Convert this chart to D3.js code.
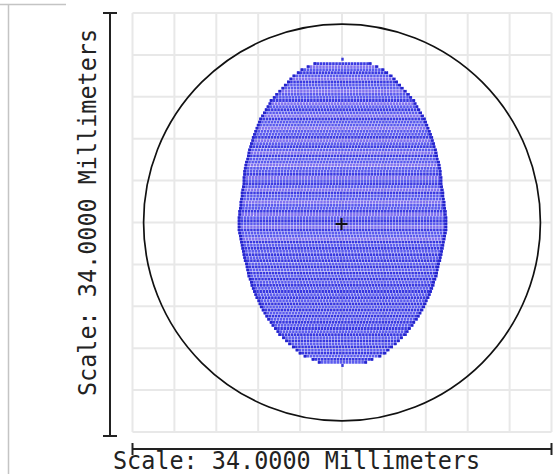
<!DOCTYPE html>
<html><head><meta charset="utf-8">
<script src="https://cdn.jsdelivr.net/npm/d3@7"></script>
<style>html,body{margin:0;padding:0;background:#fff;}svg{display:block;}</style>
</head><body>
<script>
// ---- data (millimetres, relative to the chief ray) ----
const scaleLabel = "Scale: 34.0000 Millimeters";
const fieldExtent = [-17, 17];
const gridTicks = [-17, -13.6, -10.2, -6.8, -3.4, 0, 3.4, 6.8, 10.2, 13.6, 17];
const circleRadius = [16.1];
const spotCenterX = 0.04;
const rowY = [12.9, 12.65, 12.4, 12.15, 11.9, 11.65, 11.4, 11.15, 10.9, 10.65,
  10.4, 10.15, 9.9, 9.65, 9.4, 9.15, 8.9, 8.65, 8.4, 8.15,
  7.9, 7.65, 7.4, 7.15, 6.9, 6.65, 6.4, 6.15, 5.9, 5.65,
  5.4, 5.15, 4.9, 4.65, 4.4, 4.15, 3.9, 3.65, 3.4, 3.15,
  2.9, 2.65, 2.4, 2.15, 1.9, 1.65, 1.4, 1.15, 0.9, 0.65,
  0.4, 0.15, -0.1, -0.35, -0.6, -0.85, -1.1, -1.35, -1.6, -1.85,
  -2.1, -2.35, -2.6, -2.85, -3.1, -3.35, -3.6, -3.85, -4.1, -4.35,
  -4.6, -4.85, -5.1, -5.35, -5.6, -5.85, -6.1, -6.35, -6.6, -6.85,
  -7.1, -7.35, -7.6, -7.85, -8.1, -8.35, -8.6, -8.85, -9.1, -9.35,
  -9.6, -9.85, -10.1, -10.35, -10.6, -10.85, -11.1, -11.35];
const rowHalfWidth = [2.35, 2.9, 3.4, 3.7, 4.05, 4.3, 4.5, 4.75, 4.95, 5.2,
  5.45, 5.65, 5.9, 6.0, 6.15, 6.3, 6.45, 6.6, 6.75, 6.85,
  6.95, 7.05, 7.15, 7.25, 7.35, 7.4, 7.5, 7.55, 7.65, 7.7,
  7.75, 7.8, 7.9, 7.95, 8.0, 8.05, 8.05, 8.1, 8.1, 8.1,
  8.15, 8.2, 8.25, 8.25, 8.3, 8.35, 8.35, 8.4, 8.45, 8.45,
  8.5, 8.5, 8.5, 8.5, 8.5, 8.45, 8.4, 8.35, 8.3, 8.25,
  8.2, 8.15, 8.1, 8.05, 8.0, 7.9, 7.85, 7.8, 7.75, 7.7,
  7.6, 7.5, 7.45, 7.35, 7.25, 7.15, 7.05, 6.9, 6.8, 6.7,
  6.55, 6.4, 6.25, 6.1, 5.9, 5.75, 5.55, 5.35, 5.2, 4.9,
  4.65, 4.4, 4.1, 3.8, 3.55, 3.15, 2.5, 2.0];
const tipX = [0.04, 0.04];
const tipY = [13.25, -11.6];
const centroidX = [-0.04];
const centroidY = [-0.12];

// ---- layout ----
const W = 553, H = 474;
const svg = d3.select("body").append("svg").attr("width", W).attr("height", H);

const x = d3.scaleLinear().domain(fieldExtent).range([132.5, 551.5]);
const y = d3.scaleLinear().domain(fieldExtent).range([432, 13]);

// frame lines
svg.append("line").attr("x1", 8.5).attr("x2", 8.5).attr("y1", 4).attr("y2", H)
  .attr("stroke", "#c4c4c4").attr("stroke-width", 1.5);
svg.append("line").attr("x1", 0).attr("x2", 66).attr("y1", 4.5).attr("y2", 4.5)
  .attr("stroke", "#c4c4c4").attr("stroke-width", 1.5);

// grid
const grid = svg.append("g").attr("stroke", "#e8e8e8").attr("stroke-width", 2);
grid.selectAll("line.v").data(gridTicks).join("line").attr("class", "v")
  .attr("x1", d => x(d)).attr("x2", d => x(d)).attr("y1", y(17)).attr("y2", y(-17));
grid.selectAll("line.h").data(gridTicks).join("line").attr("class", "h")
  .attr("y1", d => y(d)).attr("y2", d => y(d)).attr("x1", x(-17)).attr("x2", x(17));

// spot rows
const rows = rowY.map((v, i) => ({y: v, hw: rowHalfWidth[i], i}));
function rowColor(d) {
  if (d.y > -1.5) {
    if (d.i % 4 === 1) return "#8272f0";
    if (d.i % 3 === 0) return "#3b3be2";
    return "#5a5aee";
  }
  return d.i % 2 === 0 ? "#3838e0" : "#5c5cef";
}
const spot = svg.append("g");
spot.selectAll("line.row").data(rows).join("line").attr("class", "row")
  .attr("x1", d => x(spotCenterX - d.hw)).attr("x2", d => x(spotCenterX + d.hw))
  .attr("y1", d => y(d.y)).attr("y2", d => y(d.y))
  .attr("stroke", rowColor).attr("stroke-width", 2.8)
  .attr("stroke-dasharray", "2.6,0.5");
// darker ray ends at the rim of the footprint
spot.selectAll("line.endL").data(rows).join("line").attr("class", "endL")
  .attr("x1", d => x(spotCenterX - d.hw)).attr("x2", d => x(spotCenterX - d.hw) + 3)
  .attr("y1", d => y(d.y)).attr("y2", d => y(d.y))
  .attr("stroke", "#2424cc").attr("stroke-width", 2.4);
spot.selectAll("line.endR").data(rows).join("line").attr("class", "endR")
  .attr("x1", d => x(spotCenterX + d.hw) - 3).attr("x2", d => x(spotCenterX + d.hw))
  .attr("y1", d => y(d.y)).attr("y2", d => y(d.y))
  .attr("stroke", "#2424cc").attr("stroke-width", 2.4);
spot.selectAll("rect.tip").data(tipX.map((v, i) => ({x: v, y: tipY[i]}))).join("rect")
  .attr("class", "tip")
  .attr("x", d => x(d.x) - 1.2).attr("y", d => y(d.y) - 1.5)
  .attr("width", 2.4).attr("height", 3).attr("fill", "#3a3ad8");

// circle
svg.append("circle").attr("cx", x(0)).attr("cy", y(0))
  .attr("r", x(circleRadius[0]) - x(0))
  .attr("fill", "none").attr("stroke", "#111").attr("stroke-width", 1.7);

// centroid cross
const cross = svg.append("g").attr("stroke", "#111").attr("stroke-width", 2);
centroidX.forEach((cx, i) => {
  const px = x(cx), py = y(centroidY[i]);
  cross.append("line").attr("x1", px - 6).attr("x2", px + 6).attr("y1", py).attr("y2", py);
  cross.append("line").attr("x1", px).attr("x2", px).attr("y1", py - 6).attr("y2", py + 6);
});

// scale bars
const bar = svg.append("g").attr("stroke", "#222").attr("stroke-width", 2);
bar.append("line").attr("x1", 110).attr("x2", 110).attr("y1", y(17)).attr("y2", y(-17) + 4);
bar.append("line").attr("x1", 103).attr("x2", 117).attr("y1", y(17)).attr("y2", y(17));
bar.append("line").attr("x1", 103).attr("x2", 117).attr("y1", y(-17) + 4).attr("y2", y(-17) + 4);
bar.append("line").attr("x1", x(-17)).attr("x2", x(17)).attr("y1", 449).attr("y2", 449);
bar.append("line").attr("x1", x(-17)).attr("x2", x(-17)).attr("y1", 443).attr("y2", 455);
bar.append("line").attr("x1", x(17)).attr("x2", x(17)).attr("y1", 443).attr("y2", 455);

// labels
const font = "'DejaVu Sans Mono', 'Liberation Mono', monospace";
svg.append("text").attr("x", 113).attr("y", 469)
  .attr("font-family", font).attr("font-size", 24).attr("fill", "#222")
  .attr("textLength", 367).attr("lengthAdjust", "spacingAndGlyphs")
  .text(scaleLabel);
svg.append("text").attr("transform", "translate(96,396) rotate(-90)")
  .attr("font-family", font).attr("font-size", 24).attr("fill", "#222")
  .attr("textLength", 367).attr("lengthAdjust", "spacingAndGlyphs")
  .text(scaleLabel);
</script>
</body></html>
